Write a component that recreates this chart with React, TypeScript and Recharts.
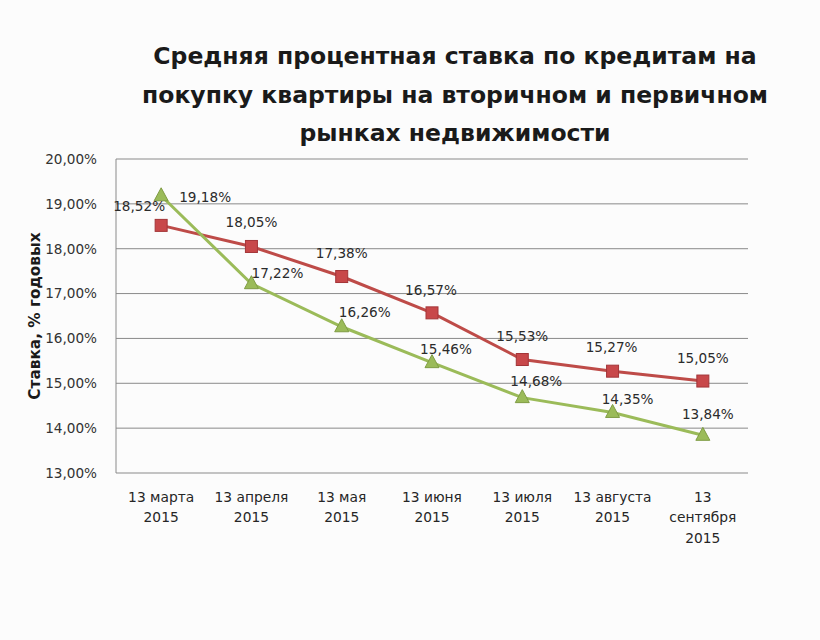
import React from "react";
import {
  LineChart,
  Line,
  XAxis,
  YAxis,
  CartesianGrid,
} from "recharts";

const categories = [
  "13 марта\n2015",
  "13 апреля\n2015",
  "13 мая\n2015",
  "13 июня\n2015",
  "13 июля\n2015",
  "13 августа\n2015",
  "13\nсентября\n2015",
];
const secondaryRates = [18.52, 18.05, 17.38, 16.57, 15.53, 15.27, 15.05];
const primaryRates = [19.18, 17.22, 16.26, 15.46, 14.68, 14.35, 13.84];
const yTicks = [13, 14, 15, 16, 17, 18, 19, 20];
const boundaryTicks = [0, 1, 2, 3, 4, 5, 6, 7];
const titleLines = [
  "Средняя процентная ставка по кредитам на",
  "покупку квартиры на вторичном и первичном",
  "рынках недвижимости",
];
const yAxisTitle = "Ставка, % годовых";

// label placement (style only)
const redLabelOffsets = [
  [-22, -19], [0, -24], [0, -23], [-1, -23], [0, -23], [-1, -24], [0, -23],
];
const greenLabelOffsets = [
  [44, 2], [26, -10], [23, -14], [14, -13], [14, -16], [15, -13], [5, -21],
];

const data = categories.map((c, i) => ({
  cat: c,
  secondary: secondaryRates[i],
  primary: primaryRates[i],
}));

const FONT = "'DejaVu Sans', sans-serif";
const fmt = (v: number) => v.toFixed(2).replace(".", ",") + "%";

const makeLabel = (offsets: number[][]) => (props: any) => {
  const { x, y, value, index } = props;
  const o = offsets[index] || [0, -20];
  return (
    <text
      x={x + o[0]}
      y={y + o[1] + 4.7}
      textAnchor="middle"
      fontFamily={FONT}
      fontSize={13.6}
      fill="#2b2b2b"
    >
      {fmt(value)}
    </text>
  );
};

const Square = (props: any) => {
  const { cx, cy } = props;
  if (cx == null || cy == null) return null;
  return (
    <rect
      x={cx - 6}
      y={cy - 6}
      width={12}
      height={12}
      fill="#c8484a"
      stroke="#a33538"
      strokeWidth={1}
    />
  );
};

const Triangle = (props: any) => {
  const { cx, cy } = props;
  if (cx == null || cy == null) return null;
  return (
    <polygon
      points={`${cx},${cy - 8} ${cx + 7},${cy + 5} ${cx - 7},${cy + 5}`}
      fill="#9bbb59"
      stroke="#7f9c44"
      strokeWidth={1}
    />
  );
};

const CatTick = (props: any) => {
  const { x, payload } = props;
  const lines = String(payload.value).split("\n");
  return (
    <g>
      {lines.map((l, i) => (
        <text
          key={i}
          x={x}
          y={501.5 + i * 20.6}
          textAnchor="middle"
          fontFamily={FONT}
          fontSize={13.8}
          fill="#262626"
        >
          {l}
        </text>
      ))}
    </g>
  );
};

export default function App() {
  return (
    <div
      style={{
        position: "absolute",
        left: 0,
        top: 0,
        width: 820,
        height: 640,
        background: "#fcfcfc",
      }}
    >
      <svg
        width={820}
        height={160}
        style={{ position: "absolute", left: 0, top: 0 }}
      >
        {titleLines.map((t, i) => (
          <text
            key={i}
            x={455}
            y={64 + i * 38.5}
            textAnchor="middle"
            fontFamily={FONT}
            fontWeight="bold"
            fontSize={23.5}
            fill="#1a1a1a"
          >
            {t}
          </text>
        ))}
      </svg>
      <div style={{ position: "absolute", left: 0, top: 0 }}>
        <LineChart
          width={820}
          height={640}
          data={data}
          margin={{ top: 159, right: 72, bottom: 107, left: 0 }}
        >
          <CartesianGrid vertical={false} stroke="#8a8a8a" strokeWidth={1} />
          <XAxis
            dataKey="cat"
            xAxisId="cat"
            tick={<CatTick />}
            tickLine={false}
            axisLine={false}
            interval={0}
            height={60}
            padding={{ left: 45.15, right: 45.15 }}
          />
          <XAxis
            xAxisId="b"
            type="number"
            domain={[0, 7]}
            ticks={boundaryTicks}
            tick={false}
            tickSize={5}
            tickLine={{ stroke: "#8a8a8a" }}
            axisLine={{ stroke: "#8a8a8a" }}
            height={0}
            allowDataOverflow
          />
          <YAxis
            type="number"
            domain={[13, 20]}
            ticks={yTicks}
            width={116}
            tickFormatter={fmt}
            tickLine={false}
            tickSize={0}
            tickMargin={19}
            axisLine={{ stroke: "#8a8a8a" }}
            tick={{ fontFamily: FONT, fontSize: 13.6, fill: "#333" }}
            label={{
              value: yAxisTitle,
              angle: -90,
              position: "insideLeft",
              offset: 0,
              dx: 35,
              style: {
                fontFamily: FONT,
                fontWeight: "bold",
                fontSize: 15.3,
                fill: "#1a1a1a",
                textAnchor: "middle",
              },
            }}
          />
          <Line
            xAxisId="cat"
            dataKey="secondary"
            stroke="#be4b48"
            strokeWidth={3}
            dot={<Square />}
            activeDot={false}
            isAnimationActive={false}
            label={makeLabel(redLabelOffsets)}
          />
          <Line
            xAxisId="cat"
            dataKey="primary"
            stroke="#9bbb59"
            strokeWidth={3}
            dot={<Triangle />}
            activeDot={false}
            isAnimationActive={false}
            label={makeLabel(greenLabelOffsets)}
          />
        </LineChart>
      </div>
    </div>
  );
}
